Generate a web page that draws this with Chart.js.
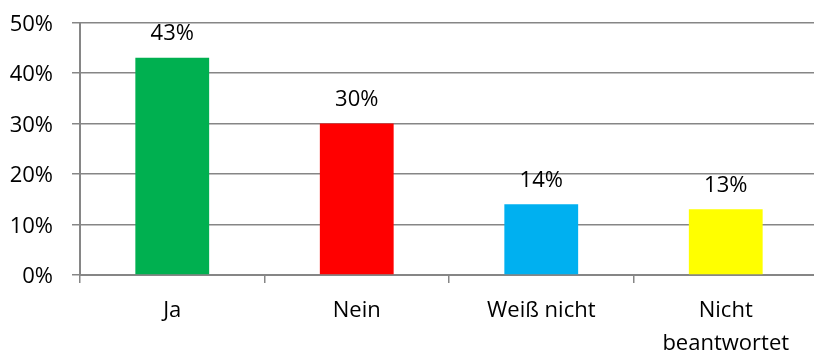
<!DOCTYPE html>
<html>
<head>
<meta charset="utf-8">
<script src="https://cdn.jsdelivr.net/npm/chart.js@4"></script>
<style>
    html, body { margin: 0; padding: 0; background: #fff; overflow: hidden; }
</style>
</head>
<body>
<canvas id="myChart" width="818" height="351"></canvas>
<script>
// survey answers in percent
const categories = ["Ja", "Nein", "Weiß nicht", ["Nicht", "beantwortet"]];
const values = [43, 30, 14, 13];
const barColors = ["#00B050", "#FF0000", "#00B0F0", "#FFFF00"];
const yTicks = [0, 10, 20, 30, 40, 50];

const fontFamily = "'Open Sans', sans-serif";
const textColor = "#000";
const axisColor = "#868686";

// value labels above each bar
const barLabels = {
    id: "barLabels",
    afterDatasetsDraw(chart) {
        const c = chart.ctx;
        const meta = chart.getDatasetMeta(0);
        c.save();
        c.font = "22px " + fontFamily;
        c.fillStyle = textColor;
        c.textAlign = "center";
        c.textBaseline = "middle";
        meta.data.forEach(function (bar, i) {
            c.fillText(values[i] + "%", bar.x, bar.y - 24);
        });
        c.restore();
    },
};

const ctx = document.getElementById("myChart").getContext("2d");
const myChart = new Chart(ctx, {
    type: "bar",
    data: {
        labels: categories,
        datasets: [
            {
                data: values,
                backgroundColor: barColors,
                borderWidth: 0,
                barPercentage: 0.4,
                categoryPercentage: 1,
            },
        ],
    },
    options: {
        responsive: false,
        animation: false,
        layout: {
            padding: { top: 22.5, right: 0, bottom: 0, left: 0 },
        },
        plugins: {
            legend: { display: false },
            tooltip: { enabled: false },
        },
        scales: {
            x: {
                grid: {
                    offset: true,
                    drawOnChartArea: false,
                    drawTicks: true,
                    tickLength: 8,
                    color: axisColor,
                    lineWidth: 1.5,
                },
                border: { color: axisColor, width: 2 },
                ticks: {
                    color: textColor,
                    padding: 11,
                    maxRotation: 0,
                    autoSkip: false,
                    font: { family: fontFamily, size: 22, lineHeight: 1.5 },
                },
                afterFit(scale) {
                    scale.height = 76;
                },
            },
            y: {
                min: 0,
                max: 50,
                afterBuildTicks(scale) {
                    scale.ticks = yTicks.map(function (v) { return { value: v }; });
                },
                grid: {
                    drawTicks: true,
                    tickLength: 8,
                    color: axisColor,
                    lineWidth: 1.5,
                },
                border: { color: axisColor, width: 2 },
                ticks: {
                    color: textColor,
                    padding: 19,
                    labelOffset: 2,
                    font: { family: fontFamily, size: 22 },
                    callback: function (v) {
                        return v + "%";
                    },
                },
                afterFit(scale) {
                    scale.width = 80;
                    scale.paddingTop = 0;
                    scale.paddingBottom = 0;
                },
            },
        },
    },
    plugins: [barLabels],
});
</script>
</body>
</html>
